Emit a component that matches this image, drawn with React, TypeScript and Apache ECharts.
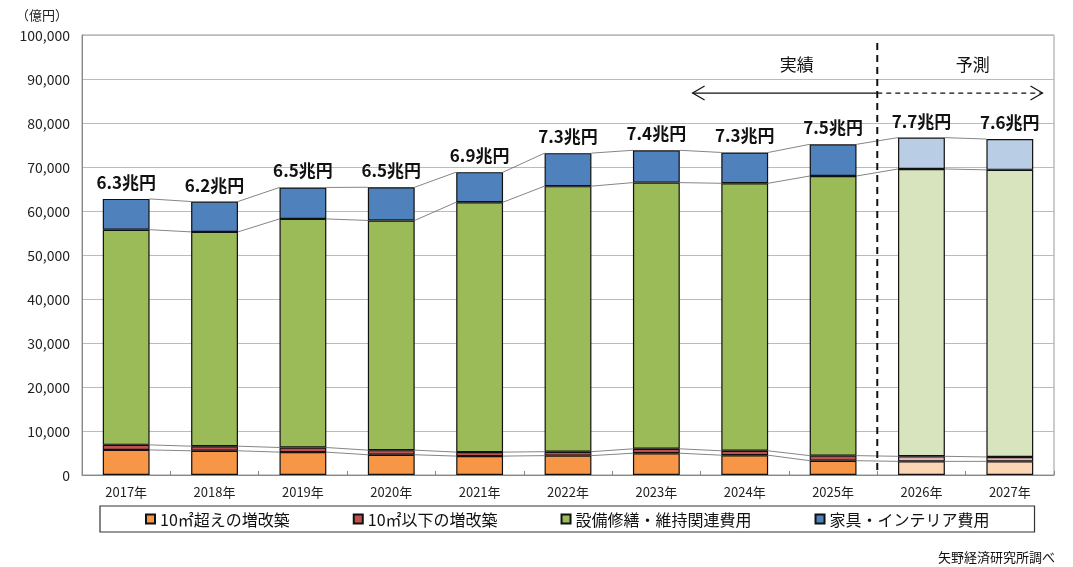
import React, { useEffect, useRef } from "react";
import * as echarts from "echarts";

const categories = ["2017年", "2018年", "2019年", "2020年", "2021年", "2022年", "2023年", "2024年", "2025年", "2026年", "2027年"];
const over10 = [5700, 5500, 5200, 4600, 4300, 4400, 4950, 4500, 3250, 3100, 3100];
const under10 = [1150, 1050, 1050, 1050, 900, 900, 1000, 1000, 1150, 1150, 1000];
const equipment = [48900, 48700, 51950, 52200, 56800, 60350, 60500, 60800, 63550, 65300, 65250];
const furniture = [7000, 6900, 7150, 7550, 6830, 7500, 7350, 7000, 7200, 7130, 7000];
const totalLabels = ["6.3兆円", "6.2兆円", "6.5兆円", "6.5兆円", "6.9兆円", "7.3兆円", "7.4兆円", "7.3兆円", "7.5兆円", "7.7兆円", "7.6兆円"];
const yTicks = [0, 10000, 20000, 30000, 40000, 50000, 60000, 70000, 80000, 90000, 100000];
const forecastFrom = 9;

const seriesNames = ["10㎡超えの増改築", "10㎡以下の増改築", "設備修繕・維持関連費用", "家具・インテリア費用"];
const colors = ["#F79646", "#C0504D", "#9BBB59", "#4F81BD"];
const lightColors = ["#FCD5B5", "#E0B4B3", "#D7E4BD", "#B9CDE5"];

const FONT = "'Noto Sans CJK JP', 'Noto Sans', sans-serif";

export default function App() {
  const ref = useRef<HTMLDivElement>(null);
  useEffect(() => {
    if (!ref.current) return;
    const chart = echarts.init(ref.current, null, { renderer: "svg" });
    const stacks = [over10, under10, equipment, furniture];
    const cum: number[][] = [];
    stacks.forEach((arr, k) => {
      cum.push(arr.map((v, i) => v + (k > 0 ? cum[k - 1][i] : 0)));
    });
    const barSeries = stacks.map((arr, k) => ({
      name: seriesNames[k],
      type: "bar",
      stack: "total",
      barWidth: "53%",
      z: 3,
      itemStyle: { color: colors[k], borderColor: "#111", borderWidth: 1.2 },
      data: arr.map((v, i) =>
        i >= forecastFrom ? { value: v, itemStyle: { color: lightColors[k] } } : v
      ),
      label:
        k === 3
          ? {
              show: true,
              position: "top",
              distance: 9,
              formatter: (p: any) => totalLabels[p.dataIndex],
              fontSize: 17,
              fontWeight: "bold",
              color: "#111",
              fontFamily: FONT,
            }
          : { show: false },
    }));
    const option: any = {
      animation: false,
      textStyle: { fontFamily: FONT },
      grid: { left: 82, right: 19, top: 35, bottom: 92, show: true, borderColor: "#999", borderWidth: 1 },
      xAxis: {
        type: "category",
        data: categories,
        axisLine: { lineStyle: { color: "#888" } },
        axisTick: { show: true, inside: true, length: 4, lineStyle: { color: "#888" } },
        axisLabel: { color: "#222", fontSize: 13, margin: 10, fontFamily: FONT },
      },
      yAxis: {
        type: "value",
        min: yTicks[0],
        max: yTicks[yTicks.length - 1],
        interval: yTicks[1] - yTicks[0],
        axisLine: { show: true, lineStyle: { color: "#888" } },
        axisTick: { show: false },
        splitLine: { lineStyle: { color: "#bbb", width: 1 } },
        axisLabel: {
          color: "#222",
          fontSize: 14,
          margin: 12,
          fontFamily: FONT,
          formatter: (v: number) => v.toLocaleString("en-US"),
        },
      },
      legend: {
        data: seriesNames,
        left: 100,
        top: 506,
        icon: "rect",
        itemWidth: 9,
        itemHeight: 9,
        itemGap: 63,
        padding: [5, 45],
        borderColor: "#333",
        borderWidth: 1.2,
        textStyle: { fontSize: 16, color: "#111", fontFamily: FONT },
      },
      series: [
        ...barSeries,
        {
          type: "custom",
          silent: true,
          z: 1,
          encode: { x: 0, y: 1 },
          data: categories.slice(0, -1).map((_, i) => [i, 0]),
          renderItem: (params: any, api: any) => {
            const i = api.value(0);
            const hw = (api.size([1, 0])[0] * 0.53) / 2;
            return {
              type: "group",
              children: cum.map((lvl) => {
                const a = api.coord([i, lvl[i]]);
                const b = api.coord([i + 1, lvl[i + 1]]);
                return {
                  type: "line",
                  shape: { x1: a[0] + hw, y1: a[1], x2: b[0] - hw, y2: b[1] },
                  style: { stroke: "#666", lineWidth: 0.8 },
                };
              }),
            };
          },
        },
      ],
    };
    chart.setOption(option);

    const p0 = chart.convertToPixel({ xAxisIndex: 0, yAxisIndex: 0 }, [0, 0]) as number[];
    const p1 = chart.convertToPixel({ xAxisIndex: 0, yAxisIndex: 0 }, [1, 0]) as number[];
    const band = p1[0] - p0[0];
    const xAt = (c: number) => p0[0] + c * band;
    const yAt = (v: number) => chart.convertToPixel({ yAxisIndex: 0 }, v) as number;
    const splitX = xAt(forecastFrom - 0.5);
    const arrowY = yAt(86800);
    const leftTip = xAt(6.41);
    const rightTip = xAt(10.37);
    const textY = yAt(93600);
    chart.setOption({
      graphic: [
        {
          type: "line",
          shape: { x1: splitX, y1: yAt(98200), x2: splitX, y2: yAt(0) },
          style: { stroke: "#111", lineWidth: 2, lineDash: [7, 5] },
          z: 10,
        },
        {
          type: "line",
          shape: { x1: leftTip, y1: arrowY, x2: splitX, y2: arrowY },
          style: { stroke: "#111", lineWidth: 1.2 },
        },
        {
          type: "polyline",
          shape: { points: [[leftTip + 12, arrowY - 7], [leftTip, arrowY], [leftTip + 12, arrowY + 7]] },
          style: { stroke: "#111", lineWidth: 1.2, fill: null },
        },
        {
          type: "line",
          shape: { x1: splitX, y1: arrowY, x2: rightTip, y2: arrowY },
          style: { stroke: "#111", lineWidth: 1.2, lineDash: [5, 4] },
        },
        {
          type: "polyline",
          shape: { points: [[rightTip - 12, arrowY - 7], [rightTip, arrowY], [rightTip - 12, arrowY + 7]] },
          style: { stroke: "#111", lineWidth: 1.2, fill: null },
        },
        {
          type: "text",
          x: xAt(7.59),
          y: textY,
          style: { text: "実績", fontSize: 17, fill: "#111", fontFamily: FONT, align: "center", verticalAlign: "middle" },
        },
        {
          type: "text",
          x: xAt(9.58),
          y: textY,
          style: { text: "予測", fontSize: 17, fill: "#111", fontFamily: FONT, align: "center", verticalAlign: "middle" },
        },
        {
          type: "text",
          x: 42,
          y: 14,
          style: { text: "（億円）", fontSize: 13, fill: "#222", fontFamily: FONT, align: "center", verticalAlign: "middle" },
        },
        {
          type: "text",
          x: 1055,
          y: 556,
          style: { text: "矢野経済研究所調べ", fontSize: 13, fill: "#111", fontFamily: FONT, align: "right", verticalAlign: "middle" },
        },
      ],
    });
    return () => chart.dispose();
  }, []);
  return <div ref={ref} style={{ position: "fixed", left: 0, top: 0, width: 1073, height: 567 }} />;
}
